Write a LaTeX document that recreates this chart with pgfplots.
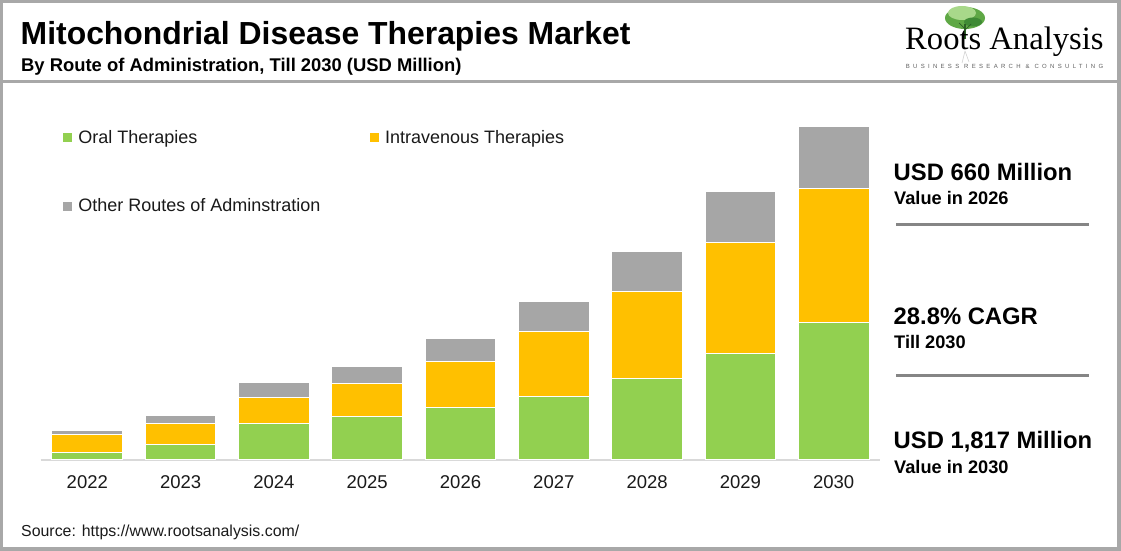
\documentclass[border=0pt]{standalone}
\usepackage{pgfplots}
\pgfplotsset{compat=1.18}
\usepackage{fontspec}
\setmainfont{Liberation Sans}
\newfontfamily\seriffont{Liberation Serif}
\newfontfamily\tagfont[LetterSpace=55]{Liberation Sans}
\definecolor{cgreen}{HTML}{92D050}
\definecolor{cyellow}{HTML}{FFC000}
\definecolor{cgray}{HTML}{A6A6A6}
\definecolor{frame}{HTML}{A8A8A8}
\definecolor{sepline}{HTML}{858585}
\definecolor{txt}{HTML}{1A1A1A}
\definecolor{treea}{HTML}{5FA845}
\definecolor{treeb}{HTML}{A8D88A}
\definecolor{treec}{HTML}{3F8A35}
\begin{document}
\begin{tikzpicture}[x=1pt,y=1pt]
\useasboundingbox (0,0) rectangle (1121,551);
% frame
\fill[frame] (0,0) rectangle (1121,551);
\fill[white] (3,3.5) rectangle (1116.5,548);
\fill[frame] (3,467.9) rectangle (1116.5,470.6);
% title
\node[anchor=base west,inner sep=0pt,font=\fontsize{31.9}{32}\selectfont\bfseries] at (20.5,506) {Mitochondrial Disease Therapies Market};
\node[anchor=base west,inner sep=0pt,font=\fontsize{18.4}{18.4}\selectfont\bfseries] at (21,479.3) {By Route of Administration, Till 2030 (USD Million)};
% logo
\fill[treea] (965,533) ellipse (20 and 11);
\fill[treeb] (962,538) ellipse (14 and 7);
\fill[treec] (973,529) ellipse (9 and 4.5);
\draw[treec!70!black,line width=1.2pt] (965,527) -- (965,512);
\draw[treec!70!black,line width=0.7pt] (965,522) -- (959,528) (965,521) -- (971,527);
\draw[gray!35,line width=0.6pt] (965,500) -- (962,488) (965,500) -- (969,489);
\node[anchor=base west,inner sep=0pt,font=\seriffont\fontsize{32.6}{33}\selectfont] at (905,501.7) {Roots Analysis};
\node[inner sep=0pt,text=gray!75!black,font=\tagfont\fontsize{6}{6}\selectfont] at (1004.5,484.3) {BUSINESS RESEARCH \& CONSULTING};
% right annotations
\node[anchor=base west,inner sep=0pt,font=\fontsize{23.8}{24}\selectfont\bfseries] at (893.5,370.3) {USD 660 Million};
\node[anchor=base west,inner sep=0pt,font=\fontsize{18.2}{18.2}\selectfont\bfseries] at (894,346) {Value in 2026};
\draw[sepline,line width=3pt] (896,326) -- (1089,326);
\node[anchor=base west,inner sep=0pt,font=\fontsize{23.8}{24}\selectfont\bfseries] at (893.5,226) {28.8\% CAGR};
\node[anchor=base west,inner sep=0pt,font=\fontsize{18.2}{18.2}\selectfont\bfseries] at (894,202.7) {Till 2030};
\draw[sepline,line width=3pt] (896,175) -- (1089,175);
\node[anchor=base west,inner sep=0pt,font=\fontsize{23.8}{24}\selectfont\bfseries] at (893.5,102) {USD 1,817 Million};
\node[anchor=base west,inner sep=0pt,font=\fontsize{18.2}{18.2}\selectfont\bfseries] at (894,77.7) {Value in 2030};
% source
\node[anchor=base west,inner sep=0pt,font=\fontsize{15.9}{16}\selectfont,text=txt] at (21,14.6) {Source: https://www.rootsanalysis.com/};
\begin{axis}[
  at={(40.65pt,91pt)}, anchor=south west,
  scale only axis, width=839.7pt, height=348.5pt,
  ybar stacked, bar width=70.7pt,
  xmin=-0.5, xmax=8.5, ymin=0, ymax=1900,
  enlargelimits=false,
  axis x line=bottom, hide y axis,
  x axis line style={draw=black!15, line width=1.2pt, -},
  xtick=data, major tick length=0pt,
  xticklabels={2022,2023,2024,2025,2026,2027,2028,2029,2030},
  xticklabel style={font=\fontsize{18.5}{18.5}\selectfont, text=txt, yshift=-12pt},
  /pgf/number format/assume math mode=true,
  legend columns=2,
  legend style={draw=none, fill=none, inner sep=0pt, outer sep=0pt,
    at={(0.02626,0.94605)}, anchor=north west,
    nodes={inner sep=0pt, outer sep=0pt, font=\fontsize{18}{18}\selectfont, text=txt},
    row sep=54pt, column sep=0pt},
  legend cell align=left,
]
\addplot+[fill=cgreen, draw=white, line width=1pt,
  legend image code/.code={\fill[cgreen] (0pt,-4pt) rectangle (8pt,4pt); \path (14.6pt,0pt);}]
  coordinates {(0,42) (1,86) (2,200) (3,238) (4,284) (5,347) (6,445) (7,583) (8,752)};
\addplot+[fill=cyellow, draw=white, line width=1pt,
  legend image code/.code={\fill[cyellow] (0pt,-4pt) rectangle (8pt,4pt); \path (14.6pt,0pt);}]
  coordinates {(0,98) (1,112) (2,142) (3,180) (4,252) (5,351) (6,471) (7,605) (8,729)};
\addplot+[fill=cgray, draw=white, line width=1pt,
  legend image code/.code={\fill[cgray] (0pt,-4pt) rectangle (8pt,4pt); \path (14.6pt,0pt);}]
  coordinates {(0,20) (1,47) (2,82) (3,94) (4,124) (5,164) (6,220) (7,278) (8,336)};
\legend{{\makebox[291.2pt][l]{\rule[-4pt]{0pt}{17pt}Oral Therapies}},
        {\rule[-4pt]{0pt}{17pt}Intravenous Therapies},
        {\makebox[291.2pt][l]{\rule[-4pt]{0pt}{17pt}Other Routes of Adminstration}}}
\end{axis}
\end{tikzpicture}
\end{document}
